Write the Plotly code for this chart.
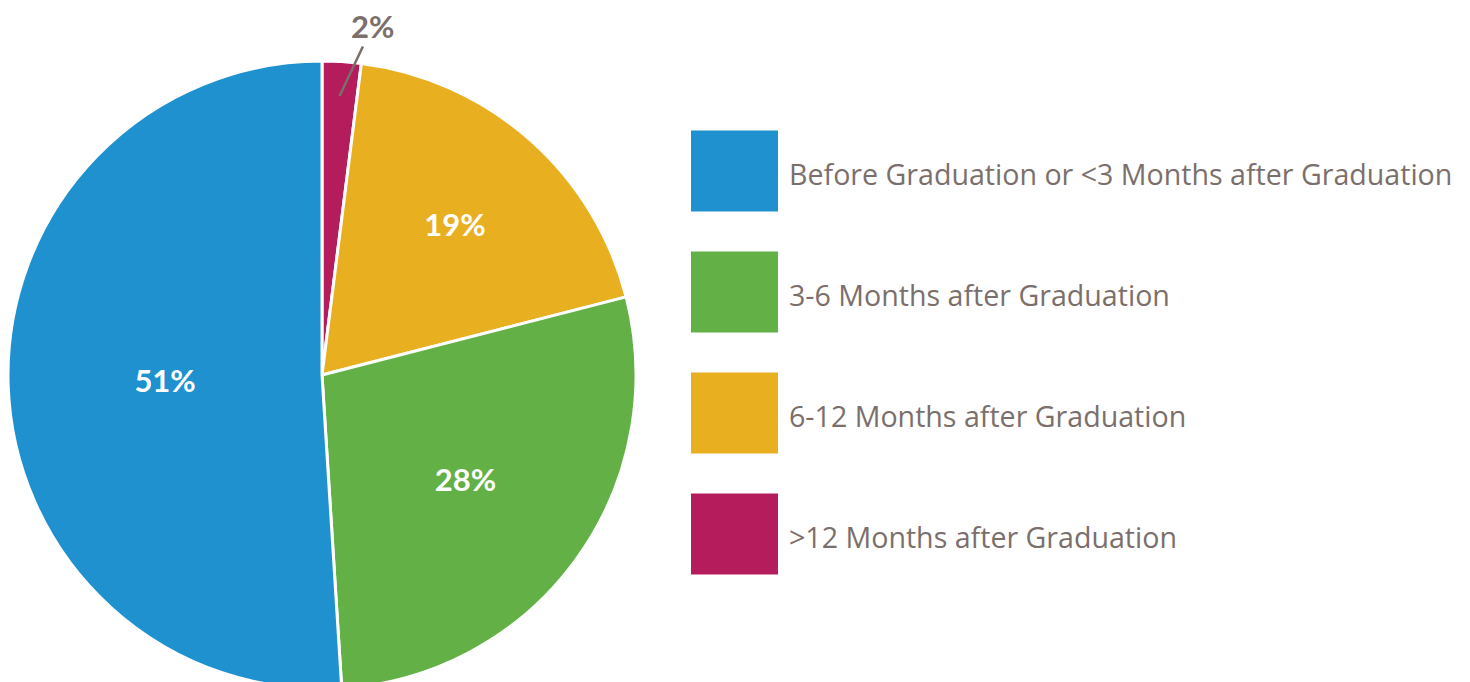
import math
import plotly.graph_objects as go

labels = ["&gt;12 Months after Graduation", "6-12 Months after Graduation",
          "3-6 Months after Graduation", "Before Graduation or &lt;3 Months after Graduation"]
values = [2, 19, 28, 51]
colors = ["#b51c5c", "#e8b021", "#63b047", "#1f91cf"]
legend_order = [3, 2, 1, 0]

W, H = 1470, 682
TEXT_GRAY = "#7b6f6c"
FONT = "Lato"
LEG_FONT = "Open Sans"

# pie placement (pixel geometry -> paper domain); page has 8px body offset
cx, top, bottom = 314, 52, 682
r = min((bottom - top) / 2, cx)
cy = top + (bottom - top) / 2
dom_x = [0, 2 * cx / W]
dom_y = [0, 1 - top / H]

texts = [f"{v}%" for v in values]
pie_text = ["" if v < 5 else t for v, t in zip(values, texts)]

fig = go.Figure(go.Pie(
    values=values, labels=labels, marker=dict(colors=colors, line=dict(color="white", width=3)),
    sort=False, direction="clockwise", rotation=0,
    text=pie_text, textinfo="text", textposition="inside",
    insidetextorientation="horizontal",
    textfont=dict(family=FONT, size=31, color="white", weight="bold"),
    domain=dict(x=dom_x, y=dom_y), showlegend=False, hoverinfo="label+percent",
))

# outside label for small slice
total = sum(values)
cum = 0
for v, t in zip(values, texts):
    mid = (cum + v / 2) / total * 2 * math.pi
    cum += v
    if v >= 5:
        continue
    px = cx + 0.89 * r * math.sin(mid)
    py = cy - 0.89 * r * math.cos(mid)
    fig.add_annotation(x=px / W, y=1 - py / H, xref="paper", yref="paper",
                       text=f"<b>{t}</b>", showarrow=True, arrowhead=0, arrowwidth=2.5,
                       arrowcolor=TEXT_GRAY, ax=33, ay=-70,
                       font=dict(family=FONT, size=31, color=TEXT_GRAY))

# custom legend with large swatches
lx0, lx1, sw_h = 683, 770, 81
row0, step = 163, 121
for i, idx in enumerate(legend_order):
    yc = row0 + i * step
    fig.add_shape(type="rect", xref="paper", yref="paper",
                  x0=lx0 / W, x1=lx1 / W, y0=1 - (yc - sw_h / 2) / H, y1=1 - (yc + sw_h / 2) / H,
                  fillcolor=colors[idx], line=dict(width=0))
    fig.add_annotation(x=779 / W, y=1 - (yc + 2) / H, xref="paper", yref="paper",
                       text=labels[idx], showarrow=False, xanchor="left", yanchor="middle",
                       font=dict(family=LEG_FONT, size=28.6, color=TEXT_GRAY))

fig.update_layout(width=W, height=H, margin=dict(l=0, r=0, t=0, b=0),
                  paper_bgcolor="white", plot_bgcolor="white")
fig.write_html("out.html")
